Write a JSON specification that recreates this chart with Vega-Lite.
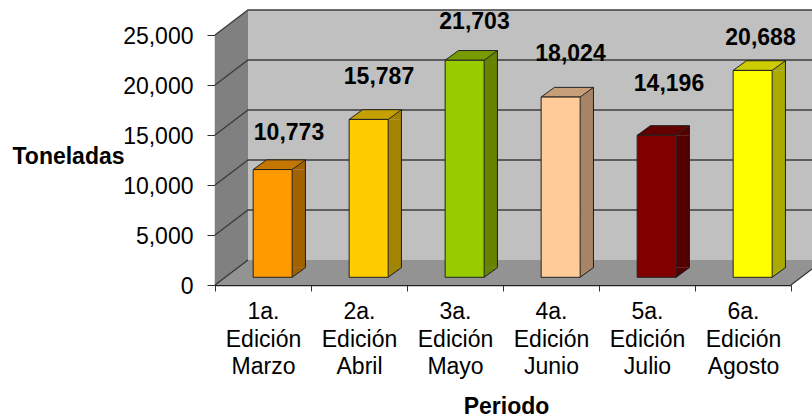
{
"$schema":"https://vega.github.io/schema/vega-lite/v6.json",
"width":576,"height":250,
"autosize":{"type":"none"},
"padding":{"left":215,"top":35,"right":21,"bottom":132},
"background":"white",
"config":{"view":{"stroke":null},"font":"Liberation Sans"},
"datasets":{"base":[
{"edicion":"1a. Edición Marzo","toneladas":0},
{"edicion":"2a. Edición Abril","toneladas":0},
{"edicion":"3a. Edición Mayo","toneladas":0},
{"edicion":"4a. Edición Junio","toneladas":0},
{"edicion":"5a. Edición Julio","toneladas":0},
{"edicion":"6a. Edición Agosto","toneladas":0}
]},
"data":{"name":"barras","values":[
{"edicion":"1a. Edición Marzo","toneladas":10773},
{"edicion":"2a. Edición Abril","toneladas":15787},
{"edicion":"3a. Edición Mayo","toneladas":21703},
{"edicion":"4a. Edición Junio","toneladas":18024},
{"edicion":"5a. Edición Julio","toneladas":14196},
{"edicion":"6a. Edición Agosto","toneladas":20688}
]},
"encoding":{
"x":{"field":"edicion","type":"nominal","title":"Periodo",
"scale":{"domain":["1a. Edición Marzo","2a. Edición Abril","3a. Edición Mayo","4a. Edición Junio","5a. Edición Julio","6a. Edición Agosto"],"paddingInner":0,"paddingOuter":0},
"axis":{"labelExpr":"split(datum.label,' ')","labelAngle":0,"labelFontSize":23,"labelColor":"#000","labelLineHeight":27.5,"labelPadding":9.5,"labelLimit":0,"tickBand":"extent","tickSize":6,"tickColor":"#333","domainColor":"#222","domainWidth":1.3,"titleFontSize":23,"titleFontWeight":"bold","titleColor":"#000","titleX":291,"titleY":121,"titleBaseline":"middle","titleAlign":"center"}},
"y":{"field":"toneladas","type":"quantitative","title":"Toneladas",
"scale":{"domain":[0,25000],"nice":false},
"axis":{"values":[0,5000,10000,15000,20000,25000],"labelExpr":"format(datum.value,',')","grid":false,"labelFontSize":23,"labelColor":"#000","labelPadding":14,"labelOffset":1,"tickSize":8,"tickColor":"#333","domainColor":"#222","domainWidth":1.3,"titleFontSize":23,"titleFontWeight":"bold","titleColor":"#000","titleAngle":0,"titleX":-147,"titleY":121,"titleAlign":"center","titleBaseline":"middle"}}
},
"resolve":{"scale":{"fill":"independent"}},
"layer":[
{"data":{"values":[{"edicion":"1a. Edición Marzo","toneladas":0}]},
"mark":{"type":"point","filled":true,"opacity":1,"size":4,"fill":"#c0c0c0","stroke":null,"shape":"M -15 -25 L 561 -25 L 561 -275 L -15 -275 Z"}},
{"data":{"values":[{"edicion":"1a. Edición Marzo","toneladas":0}]},
"mark":{"type":"point","filled":true,"opacity":1,"size":4,"fill":"#808080","stroke":null,"shape":"M -48 0 L -15 -25 L -15 -275 L -48 -250 Z"}},
{"data":{"values":[{"edicion":"1a. Edición Marzo","toneladas":0}]},
"mark":{"type":"point","filled":true,"opacity":1,"size":4,"fill":"#939393","stroke":null,"shape":"M -48 0 L -15 -25 L 561 -25 L 528 0 Z"}},
{"data":{"values":[{"edicion":"1a. Edición Marzo","toneladas":0}]},
"mark":{"type":"point","filled":false,"opacity":1,"size":4,"stroke":"#333","strokeWidth":1.2,"shape":"M -48 0 L -15 -25 M 528 0 L 561 -25"}},
{"data":{"values":[
{"edicion":"1a. Edición Marzo","toneladas":5000},
{"edicion":"1a. Edición Marzo","toneladas":10000},
{"edicion":"1a. Edición Marzo","toneladas":15000},
{"edicion":"1a. Edición Marzo","toneladas":20000},
{"edicion":"1a. Edición Marzo","toneladas":25000}]},
"mark":{"type":"point","filled":false,"opacity":1,"size":4,"stroke":"#3c3c3c","strokeWidth":1.3,"shape":"M -48 0 L -15 -25 L 561 -25"}},
{"mark":{"type":"bar","width":13.3,"xOffset":35.8,"yOffset":-7.7,"y2Offset":-17.4,"stroke":null},
"encoding":{"y2":{"datum":0},"fill":{"field":"edicion","type":"nominal","legend":null,"scale":{"range":["#a36200","#a38400","#668400","#a88466","#520000","#aaaa00"]}}}},
{"mark":{"type":"point","filled":true,"opacity":1,"size":4,"stroke":null,"shape":"M 29.15 -7.7 L 42.45 -17.4 L 42.45 -7.7 Z"},
"encoding":{"fill":{"field":"edicion","type":"nominal","legend":null,"scale":{"range":["#a36200","#a38400","#668400","#a88466","#520000","#aaaa00"]}}}},
{"data":{"name":"base"},
"mark":{"type":"point","filled":true,"opacity":1,"size":4,"stroke":null,"shape":"M 29.15 -17.4 L 42.45 -17.4 L 29.15 -7.7 Z"},
"encoding":{"fill":{"field":"edicion","type":"nominal","legend":null,"scale":{"range":["#a36200","#a38400","#668400","#a88466","#520000","#aaaa00"]}}}},
{"mark":{"type":"rule","xOffset":42.45,"yOffset":-17.4,"y2Offset":-17.4,"stroke":"#1c1c1c","strokeWidth":1},
"encoding":{"y2":{"datum":0}}},
{"data":{"name":"base"},
"mark":{"type":"point","filled":false,"opacity":1,"size":4,"stroke":"#1c1c1c","strokeWidth":1,"shape":"M 29.15 -7.7 L 42.45 -17.4"}},
{"mark":{"type":"point","filled":true,"opacity":1,"size":4,"stroke":"#222","strokeWidth":1,"shape":"M -9.85 -7.7 L 29.15 -7.7 L 42.45 -17.4 L 3.45 -17.4 Z"},
"encoding":{"fill":{"field":"edicion","type":"nominal","legend":null,"scale":{"range":["#c47600","#c4a000","#789b00","#c69f78","#620000","#cccc00"]}}}},
{"mark":{"type":"bar","width":39,"xOffset":9.65,"yOffset":-7.7,"y2Offset":-7.7,"stroke":"#222","strokeWidth":1},
"encoding":{"y2":{"datum":0},"fill":{"field":"edicion","type":"nominal","legend":null,"scale":{"range":["#ff9900","#ffcc00","#99cc00","#ffcc99","#800000","#ffff00"]}}}},
{"transform":[{"filter":"datum.toneladas==10773"}],"mark":{"type":"text","dx":26,"dy":-44.3,"fontWeight":"bold","fontSize":23,"color":"#000","baseline":"middle"},"encoding":{"text":{"field":"toneladas","format":","}}},
{"transform":[{"filter":"datum.toneladas==15787"}],"mark":{"type":"text","dx":20,"dy":-50.6,"fontWeight":"bold","fontSize":23,"color":"#000","baseline":"middle"},"encoding":{"text":{"field":"toneladas","format":","}}},
{"transform":[{"filter":"datum.toneladas==21703"}],"mark":{"type":"text","dx":19.5,"dy":-46,"fontWeight":"bold","fontSize":23,"color":"#000","baseline":"middle"},"encoding":{"text":{"field":"toneladas","format":","}}},
{"transform":[{"filter":"datum.toneladas==18024"}],"mark":{"type":"text","dx":19.5,"dy":-50.3,"fontWeight":"bold","fontSize":23,"color":"#000","baseline":"middle"},"encoding":{"text":{"field":"toneladas","format":","}}},
{"transform":[{"filter":"datum.toneladas==14196"}],"mark":{"type":"text","dx":22,"dy":-59.5,"fontWeight":"bold","fontSize":23,"color":"#000","baseline":"middle"},"encoding":{"text":{"field":"toneladas","format":","}}},
{"transform":[{"filter":"datum.toneladas==20688"}],"mark":{"type":"text","dx":17.5,"dy":-40,"fontWeight":"bold","fontSize":23,"color":"#000","baseline":"middle"},"encoding":{"text":{"field":"toneladas","format":","}}}
]
}
